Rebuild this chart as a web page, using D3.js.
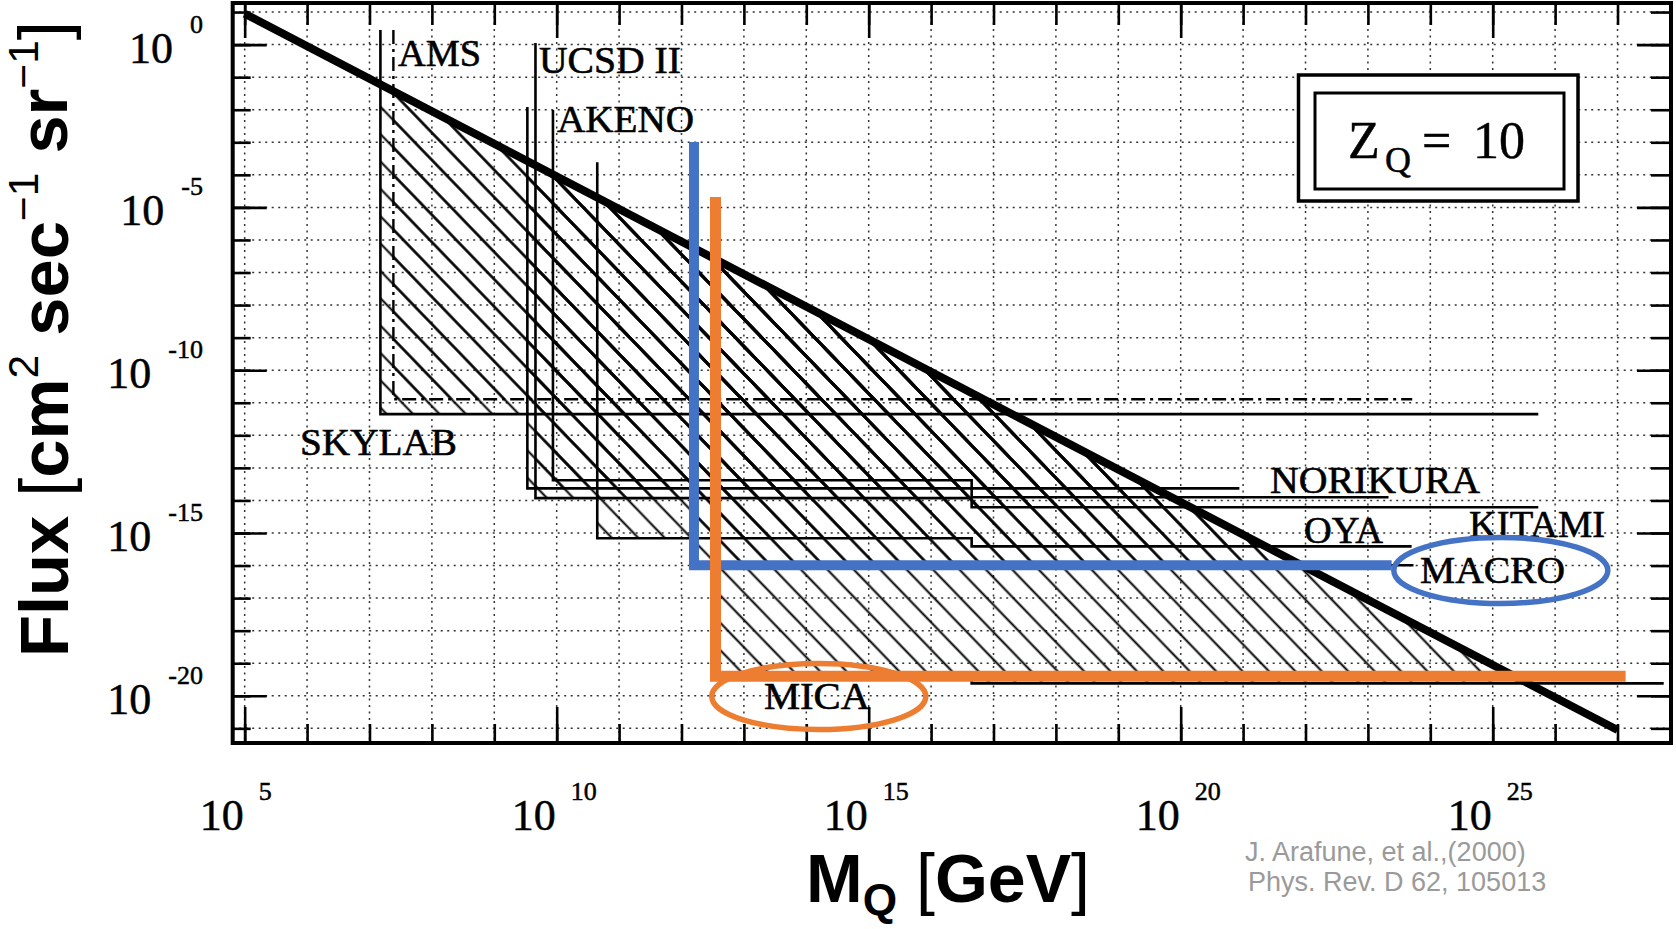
<!DOCTYPE html>
<html>
<head>
<meta charset="utf-8">
<script src="https://cdn.jsdelivr.net/npm/d3@7"></script>
<style>
  html, body { margin: 0; padding: 0; background: #fff; }
  svg { display: block; }
</style>
</head>
<body>
<svg id="chart" width="1676" height="929"></svg>
<script>
// ---- Data (all values are log10 exponents: [log10 M_Q / GeV, log10 flux]) ----
const massDecades = d3.range(5, 28);          // 10^5 ... 10^27
const fluxDecades = d3.range(-21, 2);         // 10^-21 ... 10^1
const massLabelExps = [5, 10, 15, 20, 25];
const fluxLabelExps = [0, -5, -10, -15, -20];

// Dark-matter saturated flux, F ∝ 1/M
const darkMatterLine = [[5, 0.95], [27, -21.05]];

// Experimental upper limits (left edge = mass threshold, then flux limit)
const skylab   = [[7.175, 0.45], [7.175, -11.35], [25.73, -11.35]];
const ams      = [[7.383, 0.45], [7.383, -10.89], [23.71, -10.89]];
const norikura = [[9.53, -1.92], [9.53, -13.63], [16.65, -13.63], [16.65, -13.90], [23.33, -13.90]];
const ucsd2    = [[9.66, 0.05], [9.66, -13.93], [16.65, -13.93], [16.65, -14.21], [25.73, -14.21]];
const akeno    = [[9.94, -2.01], [9.94, -13.38], [16.65, -13.38], [16.65, -13.63], [20.94, -13.63]];
const oya      = [[10.65, -3.61], [10.65, -15.16], [16.65, -15.16], [16.65, -15.41], [23.70, -15.41]];
const macro    = [[12.20, -2.99], [12.20, -15.99], [23.73, -15.99]];
const mica     = [[12.545, -4.68], [12.545, -19.40], [16.65, -19.40], [16.65, -19.62], [27.74, -19.62]];

// Highlighted limits
const macroHighlight = [[12.20, -2.99], [12.20, -15.99], [23.38, -15.99]];
const micaHighlight  = [[12.545, -4.68], [12.545, -19.40], [27.13, -19.40]];

const solidLimits = [skylab, norikura, ucsd2, akeno, oya, macro, mica];
const dashedLimits = [ams];

// ---- Layout ----
const svg = d3.select("#chart");
const plot = { left: 232.7, right: 1671, top: 3, bottom: 743 };

const x = d3.scaleLog().domain([10 ** 4.808, 10 ** 27.857]).range([plot.left, plot.right]);
const y = d3.scaleLog().domain([10 ** 1.278, 10 ** -21.45]).range([plot.top, plot.bottom]);
const X = e => x(10 ** e);
const Y = e => y(10 ** e);

const serif = "'Liberation Serif', 'Times New Roman', serif";
const sans = "'Liberation Sans', Arial, sans-serif";

const line = d3.line().x(d => X(d[0])).y(d => Y(d[1]));

// ---- Defs: hatch pattern and clip regions ----
const defs = svg.append("defs");
const pat = defs.append("pattern")
  .attr("id", "hatch")
  .attr("patternUnits", "userSpaceOnUse")
  .attr("width", 19).attr("height", 19)
  .attr("patternTransform", "rotate(-44)");
pat.append("line")
  .attr("x1", 9.5).attr("y1", -1).attr("x2", 9.5).attr("y2", 20)
  .attr("stroke", "#000").attr("stroke-width", 2);

defs.append("clipPath").attr("id", "plotClip")
  .append("rect")
  .attr("x", plot.left).attr("y", plot.top)
  .attr("width", plot.right - plot.left).attr("height", plot.bottom - plot.top);

// region below the dark-matter line
const dm0 = darkMatterLine[0], dm1 = darkMatterLine[1];
defs.append("clipPath").attr("id", "belowDM")
  .append("path")
  .attr("d", `M${X(dm0[0])},${Y(dm0[1])} L${X(dm1[0])},${Y(dm1[1])} L${X(dm1[0])},${plot.bottom} L${X(dm0[0])},${plot.bottom} Z`);

// ---- Grid ----
const grid = svg.append("g")
  .attr("stroke", "#333").attr("stroke-width", 1.5)
  .attr("stroke-dasharray", "2,4.5");
grid.selectAll("line.h").data(fluxDecades).join("line")
  .attr("class", "h")
  .attr("x1", plot.left).attr("x2", plot.right)
  .attr("y1", d => Y(d)).attr("y2", d => Y(d));
grid.selectAll("line.v").data(massDecades).join("line")
  .attr("class", "v")
  .attr("y1", plot.top).attr("y2", plot.bottom)
  .attr("x1", d => X(d)).attr("x2", d => X(d));

// ---- Hatched excluded region ----
const hatchG = svg.append("g").attr("clip-path", "url(#plotClip)")
  .append("g").attr("clip-path", "url(#belowDM)");
hatchG.selectAll("path").data(solidLimits.concat(dashedLimits)).join("path")
  .attr("d", pts => {
    const first = pts[0], last = pts[pts.length - 1];
    const poly = pts.map(p => [X(p[0]), Y(p[1])]);
    poly.push([X(last[0]), plot.top], [X(first[0]), plot.top]);
    return "M" + poly.map(p => p.join(",")).join("L") + "Z";
  })
  .attr("fill", "url(#hatch)")
  .attr("stroke", "none");

// ---- Limit lines ----
svg.append("g").selectAll("path").data(solidLimits).join("path")
  .attr("d", line)
  .attr("fill", "none").attr("stroke", "#000").attr("stroke-width", 2.6)
  .attr("stroke-linejoin", "miter");
svg.append("g").selectAll("path").data(dashedLimits).join("path")
  .attr("d", line)
  .attr("fill", "none").attr("stroke", "#000").attr("stroke-width", 2.4)
  .attr("stroke-dasharray", "14,5,3,5");

// ---- Dark-matter line ----
svg.append("path").datum(darkMatterLine)
  .attr("d", line)
  .attr("fill", "none").attr("stroke", "#000").attr("stroke-width", 8);

// ---- Experiment labels ----
const expLabels = [
  { text: "AMS",      at: [7.457, -0.658],  width: 83 },
  { text: "UCSD II",  at: [9.716, -0.873],  width: 142 },
  { text: "AKENO",    at: [10.005, -2.686], width: 137 },
  { text: "SKYLAB",   at: [5.886, -12.61],  width: 157 },
  { text: "NORIKURA", at: [21.431, -13.78], width: 210 },
  { text: "OYA",      at: [21.976, -15.32], width: 79 },
  { text: "KITAMI",   at: [24.62, -15.13],  width: 136 },
  { text: "MACRO",    at: [23.835, -16.55], width: 145 },
  { text: "MICA",     at: [13.322, -20.42], width: 106 }
];
svg.append("g").selectAll("text").data(expLabels).join("text")
  .attr("x", d => X(d.at[0])).attr("y", d => Y(d.at[1]))
  .attr("font-family", serif).attr("font-size", 38)
  .attr("textLength", d => d.width).attr("lengthAdjust", "spacingAndGlyphs")
  .attr("fill", "#000").attr("stroke", "#000").attr("stroke-width", 0.6)
  .text(d => d.text);

// ---- Z_Q = 10 box ----
const boxG = svg.append("g");
boxG.append("rect").attr("x", 1298.5).attr("y", 75).attr("width", 279.5).attr("height", 126)
  .attr("fill", "#fff").attr("stroke", "#000").attr("stroke-width", 3.5);
boxG.append("rect").attr("x", 1315).attr("y", 93).attr("width", 249).attr("height", 96)
  .attr("fill", "#fff").attr("stroke", "#000").attr("stroke-width", 3);
const zq = boxG.append("text").attr("font-family", serif).attr("fill", "#000")
  .attr("stroke", "#000").attr("stroke-width", 0.5);
zq.append("tspan").attr("x", 1348).attr("y", 158).attr("font-size", 52).text("Z");
zq.append("tspan").attr("x", 1385).attr("y", 172).attr("font-size", 36).text("Q");
zq.append("tspan").attr("x", 1422).attr("y", 158).attr("font-size", 52).text("=");
zq.append("tspan").attr("x", 1473).attr("y", 158).attr("font-size", 52).text("10");

// ---- Frame and ticks ----
function ticks(axis, transform, values, size) {
  svg.append("g").attr("transform", transform)
    .call(axis.tickValues(values).tickSize(size).tickSizeOuter(0).tickFormat(""))
    .call(g => g.select(".domain").remove())
    .call(g => g.selectAll("line").attr("stroke", "#000").attr("stroke-width", 2.6));
}
const mVals = massDecades.map(e => 10 ** e);
const fVals = fluxDecades.map(e => 10 ** e);
const mLong = massLabelExps.map(e => 10 ** e);
const fLong = fluxLabelExps.map(e => 10 ** e);

ticks(d3.axisBottom(x), `translate(0,${plot.bottom})`, mVals, -19);
ticks(d3.axisBottom(x), `translate(0,${plot.bottom})`, mLong, -36);
ticks(d3.axisTop(x), `translate(0,${plot.top})`, mVals, -22);
ticks(d3.axisTop(x), `translate(0,${plot.top})`, mLong, -35);
ticks(d3.axisLeft(y), `translate(${plot.left},0)`, fVals, -18);
ticks(d3.axisLeft(y), `translate(${plot.left},0)`, fLong, -34);
ticks(d3.axisRight(y), `translate(${plot.right},0)`, fVals, -20);
ticks(d3.axisRight(y), `translate(${plot.right},0)`, fLong, -34);

svg.append("rect")
  .attr("x", plot.left).attr("y", plot.top)
  .attr("width", plot.right - plot.left).attr("height", plot.bottom - plot.top)
  .attr("fill", "none").attr("stroke", "#000").attr("stroke-width", 4);

// ---- Tick labels ----
svg.append("g").selectAll("text").data(fluxLabelExps).join("text")
  .attr("x", 203).attr("y", d => Y(d) + 18)
  .attr("text-anchor", "end")
  .attr("font-family", serif).attr("font-size", 44).attr("fill", "#000")
  .attr("stroke", "#000").attr("stroke-width", 0.5)
  .each(function (d) {
    const t = d3.select(this);
    t.append("tspan").text("10");
    t.append("tspan").attr("dx", 17).attr("dy", -30).attr("font-size", 26)
      .text(d === 0 ? "0" : "-" + (-d));
  });

svg.append("g").selectAll("text").data(massLabelExps).join("text")
  .attr("x", d => X(d) - 45).attr("y", 830)
  .attr("font-family", serif).attr("font-size", 44).attr("fill", "#000")
  .attr("stroke", "#000").attr("stroke-width", 0.5)
  .each(function (d) {
    const t = d3.select(this);
    t.append("tspan").text("10");
    t.append("tspan").attr("dx", 15).attr("dy", -30).attr("font-size", 26).text(d);
  });

// ---- Highlight overlays ----
svg.append("path").datum(macroHighlight)
  .attr("d", line).attr("fill", "none")
  .attr("stroke", "#4472C4").attr("stroke-width", 10).attr("stroke-linejoin", "miter");
svg.append("path").datum(micaHighlight)
  .attr("d", line).attr("fill", "none")
  .attr("stroke", "#ED7D31").attr("stroke-width", 11).attr("stroke-linejoin", "miter");

const rings = [
  { at: [25.13, -16.15], rx: 107, ry: 33, color: "#4472C4" },
  { at: [14.20, -20.02], rx: 107, ry: 33, color: "#ED7D31" }
];
svg.append("g").selectAll("ellipse").data(rings).join("ellipse")
  .attr("cx", d => X(d.at[0])).attr("cy", d => Y(d.at[1]))
  .attr("rx", d => d.rx).attr("ry", d => d.ry)
  .attr("fill", "none").attr("stroke", d => d.color).attr("stroke-width", 5.5);

// ---- Axis titles ----
function fitLength(sel, target) {
  const len = sel.node().getComputedTextLength();
  const fs = parseFloat(sel.attr("font-size"));
  sel.attr("font-size", fs * target / len);
}

const yTitle = svg.append("text")
  .attr("transform", "translate(68,657) rotate(-90)")
  .attr("font-family", sans).attr("font-size", 66).attr("fill", "#000");
yTitle.append("tspan").attr("font-weight", "bold").text("Flux ");
yTitle.append("tspan").attr("font-weight", "normal").text("[");
yTitle.append("tspan").attr("font-weight", "bold").text("cm");
yTitle.append("tspan").attr("font-weight", "normal").attr("font-size", "0.62em").attr("dy", "-0.7em").text("2");
yTitle.append("tspan").attr("font-weight", "bold").attr("dy", "0.43em").text(" sec");
yTitle.append("tspan").attr("font-weight", "normal").attr("font-size", "0.62em").attr("dy", "-0.7em").text("\u22121");
yTitle.append("tspan").attr("font-weight", "bold").attr("dy", "0.43em").text(" sr");
yTitle.append("tspan").attr("font-weight", "normal").attr("font-size", "0.62em").attr("dy", "-0.7em").text("\u22121");
yTitle.append("tspan").attr("font-weight", "normal").attr("dy", "0.43em").text("]");
fitLength(yTitle, 636);

const xTitle = svg.append("text")
  .attr("x", 806).attr("y", 902)
  .attr("font-family", sans).attr("font-size", 68).attr("fill", "#000");
xTitle.append("tspan").attr("font-weight", "bold").text("M");
xTitle.append("tspan").attr("font-weight", "bold").attr("font-size", "0.65em").attr("dy", "0.3em").text("Q");
xTitle.append("tspan").attr("font-weight", "normal").attr("dy", "-0.195em").text(" [");
xTitle.append("tspan").attr("font-weight", "bold").text("GeV");
xTitle.append("tspan").attr("font-weight", "normal").text("]");
fitLength(xTitle, 284);

// ---- Reference note ----
const note = svg.append("g").attr("font-family", sans).attr("font-size", 27).attr("fill", "#9a9a9a");
note.append("text").attr("x", 1245).attr("y", 861).text("J. Arafune, et al.,(2000)");
note.append("text").attr("x", 1248).attr("y", 891).text("Phys. Rev. D 62, 105013");
</script>
</body>
</html>
